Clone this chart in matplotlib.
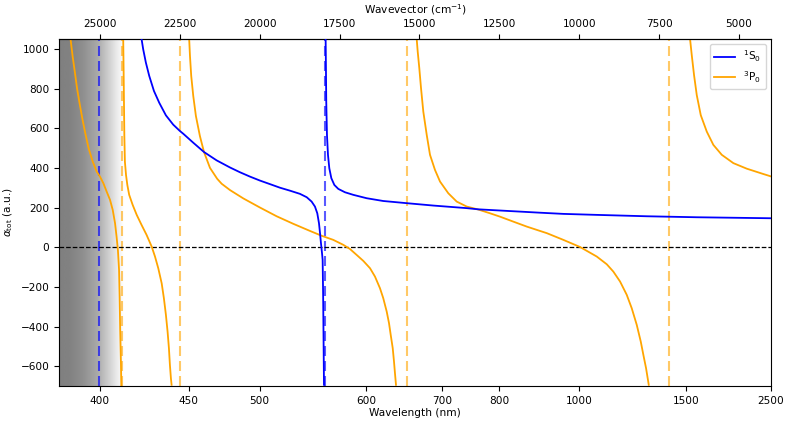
import numpy as np
import matplotlib
matplotlib.use('Agg')
import matplotlib.pyplot as plt

plt.rcParams['font.size'] = 7.6

# wavelength (nm) and alpha_tot (a.u.) per branch
s0_b1_nm = [422.0, 422.9, 424.4, 426.3, 429.0, 432.1, 436.0, 440.4, 444.5, 446.6, 452.9, 459.9, 468.4,
            477.8, 485.0, 492.5, 500.2, 508.2, 516.4, 524.9, 533.6, 539.7, 544.2, 547.3, 549.5, 551.1,
            552.1, 553.0, 554.0, 554.6, 555.1, 555.5, 555.9]
s0_b1 = [1049, 998, 931, 864, 788, 728, 665, 618, 586, 572, 527, 480, 438,
         402, 378, 356, 336, 318, 300, 285, 269, 252, 230, 205, 171, 121,
         71, 20, -30, -64, -250, -470, -694]
s0_b2_nm = [557.5, 557.8, 558.1, 558.8, 559.8, 561.1, 563.1, 566.1, 570.1, 577.0, 585.8, 600.5, 619.8,
            649.4, 686.5, 739.5, 759.9, 801.3, 890.6, 952.5, 1057.8, 1267.6, 1581.5, 2500]
s0_b2 = [1050, 903, 734, 566, 465, 398, 348, 314, 294, 277, 264, 247, 233,
         222, 210, 197, 191, 185, 174, 168, 163, 156, 151, 146]

p0_b1_nm = [385.8, 386.8, 387.9, 388.9, 390.2, 391.5, 392.8, 394.4, 396.4, 398.4, 400.0, 401.7, 403.4,
            405.1, 406.5, 407.7, 408.5, 409.2, 409.8, 410.1, 410.4, 410.8, 411.0]
p0_b1 = [1050, 961, 877, 798, 717, 642, 575, 499, 432, 381, 356, 323, 280,
         239, 188, 121, 53, -14, -114, -249, -417, -585, -698]
p0_b2_nm = [412.0, 412.2, 412.4, 412.6, 412.9, 413.5, 414.2, 415.2, 417.1, 419.3, 422.0, 424.8, 427.7,
            429.6, 431.5, 433.5, 434.8, 436.0, 437.0, 437.8, 438.4, 439.0, 439.4]
p0_b2 = [1050, 903, 734, 566, 431, 364, 314, 264, 213, 163, 112, 62, 3,
         -47, -106, -182, -257, -341, -426, -509, -594, -661, -694]
p0_b3_nm = [450.3, 450.8, 451.6, 452.9, 454.6, 457.2, 459.9, 463.9, 468.8, 471.9, 477.8, 487.5, 500.2,
            513.6, 527.7, 542.7, 554.0, 565.0, 575.2, 582.2, 589.4, 596.7, 604.3, 610.0, 615.9, 619.8,
            624.0, 626.8, 628.9, 631.4, 633.0, 634.2, 635.5]
p0_b3 = [1050, 965, 864, 763, 662, 561, 480, 400, 345, 320, 288, 246, 200,
         156, 118, 82, 57, 37, 12, -9, -39, -69, -106, -148, -207, -257,
         -325, -383, -442, -509, -577, -635, -694]
p0_b4_nm = [662.8, 664.2, 666.4, 668.8, 672.0, 676.9, 681.6, 688.9, 696.5, 709.3, 722.8, 739.5, 759.9,
            781.7, 801.3, 828.9, 858.8, 890.6, 907.6, 952.5, 1002.4, 1057.8, 1094.1, 1119.3, 1146.3,
            1174.4, 1196.5, 1219.4, 1238.3, 1250.9, 1264.2, 1277.8]
p0_b4 = [1050, 986, 903, 802, 684, 566, 466, 390, 331, 272, 230, 205, 190,
         171, 154, 129, 104, 82, 71, 37, 1, -47, -86, -123, -173,
         -240, -308, -392, -476, -543, -610, -694]
p0_b5_nm = [1530.7, 1543.2, 1560.5, 1581.5, 1613.4, 1663.9, 1723.0, 1804.7, 1931.2, 2101.7, 2359.6, 2500]
p0_b5 = [1050, 969, 868, 767, 666, 583, 516, 466, 424, 396, 369, 357]

# resonance positions (nm)
s0_res = [399.5, 556.9]
p0_res = [411.5, 444.5, 650.1, 1392.5]

# grey shading at the short wavelength end
shade_nm = [380, 386, 392, 399, 405, 409, 412]
shade_gray = [0.50, 0.51, 0.56, 0.66, 0.82, 0.93, 1.0]

wl_ticks = [400, 450, 500, 600, 700, 800, 1000, 1500, 2500]
wv_ticks = [25000, 22500, 20000, 17500, 15000, 12500, 10000, 7500, 5000]


def k(nm):
    return 1e7/np.asarray(nm, dtype=float)


fig = plt.figure(figsize=(7.93, 4.26), dpi=100)
ax = fig.add_axes([59/793, 40/426, 712/793, 347/426])

# shading
xs = np.linspace(380.5, 412, 300)
g = np.interp(xs, shade_nm, shade_gray)
ax.imshow(g[np.newaxis, :], cmap='gray', vmin=0, vmax=1, aspect='auto',
          extent=[k(380.5), k(412), -700, 1050], interpolation='bilinear', zorder=0)

for r in s0_res:
    ax.axvline(k(r), color='blue', alpha=0.65, lw=1.5, dashes=(4.8, 2.4), zorder=1)
for r in p0_res:
    ax.axvline(k(r), color='orange', alpha=0.6, lw=1.5, dashes=(4.8, 2.4), zorder=1)
ax.axhline(0, color='black', lw=0.9, ls='--', zorder=1)

ax.plot(k(s0_b1_nm), s0_b1, color='blue', lw=1.3, label=r'$^1$S$_0$', zorder=3)
ax.plot(k(s0_b2_nm), s0_b2, color='blue', lw=1.3, zorder=3)
ax.plot(k(p0_b1_nm), p0_b1, color='orange', lw=1.3, label=r'$^3$P$_0$', zorder=2)
ax.plot(k(p0_b2_nm), p0_b2, color='orange', lw=1.3, zorder=2)
ax.plot(k(p0_b3_nm), p0_b3, color='orange', lw=1.3, zorder=2)
ax.plot(k(p0_b4_nm), p0_b4, color='orange', lw=1.3, zorder=2)
ax.plot(k(p0_b5_nm), p0_b5, color='orange', lw=1.3, zorder=2)

ax.set_xlim(k(380.5), k(2500))
ax.set_ylim(-700, 1050)
ax.set_xticks(k(wl_ticks))
ax.set_xticklabels([str(w) for w in wl_ticks])
ax.set_xlabel('Wavelength (nm)', labelpad=2)
ax.set_ylabel(r'$\alpha_{\rm tot}$ (a.u.)')

top = ax.secondary_xaxis('top')
top.set_xticks(wv_ticks)
top.set_xticklabels([str(w) for w in wv_ticks])
top.set_xlabel('Wavevector (cm$^{-1}$)', labelpad=4)

ax.legend(loc='upper right')

fig.savefig('out.png', dpi=100)
